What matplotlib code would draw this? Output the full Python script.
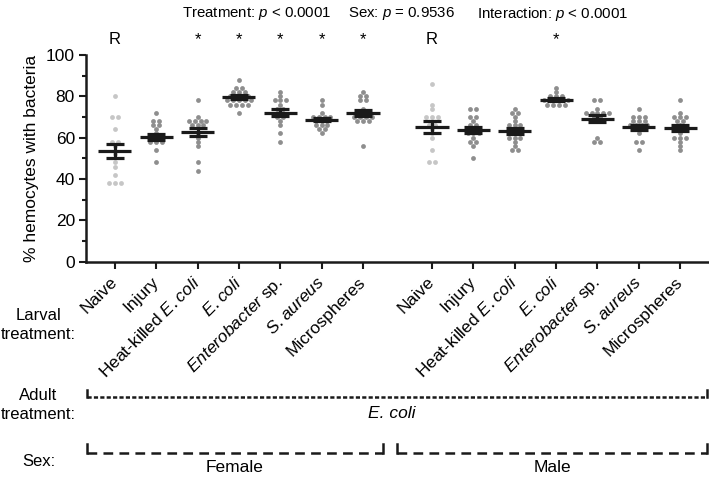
import matplotlib
matplotlib.use('Agg')
import matplotlib.pyplot as plt
from matplotlib.lines import Line2D
import numpy as np

plt.rcParams['font.family'] = ['Liberation Sans', 'DejaVu Sans']
plt.rcParams['mathtext.fontset'] = 'custom'
plt.rcParams['mathtext.it'] = 'Liberation Sans:italic'
plt.rcParams['lines.scale_dashes'] = False

# larval treatments (x tick labels), shared by both sexes
treatments = ['Naive', 'Injury', r'Heat-killed $\it{E. coli}$', r'$\it{E. coli}$',
              r'$\it{Enterobacter}$ sp.', r'$\it{S. aureus}$', 'Microspheres']

# individual points, % hemocytes with bacteria
female = [
    [80, 70, 70, 64, 58, 58, 56, 52, 48, 46, 42, 38, 38, 38],
    [72, 68, 68, 66, 66, 64, 62, 60, 60, 58, 58, 58, 54, 48],
    [78, 70, 68, 68, 68, 68, 66, 66, 66, 62, 60, 58, 56, 48, 44],
    [88, 84, 84, 82, 82, 82, 80, 80, 80, 80, 78, 78, 78, 78, 78, 76, 76, 76, 76, 72],
    [82, 80, 78, 78, 78, 76, 74, 74, 72, 70, 70, 68, 66, 62, 58],
    [78, 76, 72, 70, 70, 70, 70, 68, 68, 68, 66, 66, 66, 64, 64, 62],
    [82, 80, 80, 78, 78, 74, 72, 70, 70, 70, 70, 68, 68, 68, 56],
]
male = [
    [86, 76, 74, 70, 70, 70, 66, 66, 64, 62, 60, 54, 48, 48],
    [74, 74, 70, 70, 68, 66, 66, 64, 62, 62, 62, 60, 58, 58, 56, 50],
    [74, 72, 72, 70, 68, 66, 66, 66, 64, 62, 60, 60, 60, 58, 56, 54, 54],
    [84, 82, 80, 80, 80, 78, 78, 78, 78, 78, 76, 76, 76, 76],
    [78, 78, 74, 72, 72, 72, 72, 72, 70, 70, 68, 68, 60, 58, 58],
    [74, 70, 70, 70, 68, 68, 68, 66, 66, 66, 66, 64, 62, 58, 58, 54],
    [78, 72, 70, 70, 70, 68, 68, 66, 64, 62, 60, 60, 60, 58, 56, 54],
]

# mean and SEM as drawn
female_mean = [53.7, 60.4, 62.6, 79.7, 72.1, 68.7, 72.1]
female_sem = [3.4, 1.5, 2.0, 0.8, 1.8, 0.9, 1.4]
male_mean = [65.1, 63.5, 63.2, 78.4, 69.2, 65.1, 64.6]
male_sem = [2.7, 1.5, 1.5, 0.6, 1.6, 1.2, 1.6]

# significance marks above each group
female_marks = ['R', '', '*', '*', '*', '*', '*']
male_marks = ['R', '', '', '*', '', '', '']

W, H = 709, 480
FS = 12.5


def px(x, y):
    return x / W, 1 - y / H


def swarm(ax, xc, vals, color):
    vals = np.array(vals)
    for v in np.unique(vals):
        k = np.sum(vals == v)
        offs = (np.arange(k) - (k - 1) / 2) * 0.14
        ax.scatter(xc + offs, [v] * k, s=12, color=color, linewidths=0, zorder=2)


def main():
    fig = plt.figure(figsize=(W / 100, H / 100), dpi=100)
    ax = fig.add_axes([86 / W, (H - 261.5) / H, 623 / W, 206.5 / H])

    xf = np.arange(7)
    xm = np.arange(7) + 7.67
    groups = [(xf, female, female_mean, female_sem, female_marks),
              (xm, male, male_mean, male_sem, male_marks)]
    for xs, pts, means, sems, marks in groups:
        for i in range(7):
            col = '#c6c6c6' if i == 0 else '#8e8e8e'
            swarm(ax, xs[i], pts[i], col)
            ax.hlines(means[i], xs[i] - 0.4, xs[i] + 0.4, color='#1a1a1a', lw=2.3, zorder=3)
            ax.hlines([means[i] - sems[i], means[i] + sems[i]], xs[i] - 0.22, xs[i] + 0.22,
                      color='#1a1a1a', lw=2.3, zorder=3)
            ax.vlines(xs[i], means[i] - sems[i], means[i] + sems[i], color='#1a1a1a', lw=2.3, zorder=3)
            if marks[i]:
                ax.text(xs[i], 107.5, marks[i], ha='center', va='center', fontsize=12, clip_on=False)

    ax.set_xlim(-0.70, 14.37)
    ax.set_ylim(0, 100)
    ax.set_yticks(range(0, 101, 20))
    ax.set_yticks(range(10, 100, 20), minor=True)
    ax.set_xticks(np.concatenate([xf, xm]))
    ax.set_xticklabels(treatments + treatments, rotation=45, ha='right', va='center',
                       rotation_mode='anchor', fontsize=FS)
    ax.tick_params(axis='both', which='both', direction='out', width=1.5, color='#1a1a1a')
    ax.tick_params(axis='both', which='major', length=5, labelsize=FS, pad=3)
    ax.tick_params(axis='x', which='major', pad=8)
    ax.tick_params(axis='y', which='minor', length=3)
    for s in ['top', 'right']:
        ax.spines[s].set_visible(False)
    for s in ['left', 'bottom']:
        ax.spines[s].set_linewidth(1.8)
        ax.spines[s].set_color('#1a1a1a')

    fig.text(*px(32, 158), '% hemocytes with bacteria', rotation=90, ha='center', va='center',
             fontsize=FS)

    # header statistics
    fig.text(*px(182, 14), r'Treatment: $\it{p}$ < 0.0001', ha='left', va='center', fontsize=10.8)
    fig.text(*px(348, 14), r'Sex: $\it{p}$ = 0.9536', ha='left', va='center', fontsize=10.8)
    fig.text(*px(477, 14), r'Interaction: $\it{p}$ < 0.0001', ha='left', va='center', fontsize=10.8)

    # row labels below the axis
    fig.text(*px(38.5, 325), 'Larval\ntreatment:', ha='center', va='center', fontsize=12,
             multialignment='center', linespacing=1.3)
    fig.text(*px(38.5, 405), 'Adult\ntreatment:', ha='center', va='center', fontsize=12,
             multialignment='center', linespacing=1.3)
    fig.text(*px(38.5, 462), 'Sex:', ha='center', va='center', fontsize=12)

    def bracket(x0, x1, y, up, dashes):
        xa, ya = px(x0, y)
        xb, _ = px(x1, y)
        _, yt = px(x0, y - up)
        kw = dict(color='#1a1a1a', lw=1.8, transform=fig.transFigure)
        fig.add_artist(Line2D([xa, xb], [ya, ya], dashes=dashes, **kw))
        fig.add_artist(Line2D([xa, xa], [ya, yt], **kw))
        fig.add_artist(Line2D([xb, xb], [ya, yt], **kw))

    # adult treatment bracket
    bracket(87, 707, 397, 7, (3, 1.6))
    fig.text(*px(392, 414), 'E. coli', style='italic', ha='center', va='center', fontsize=FS)

    # sex brackets
    bracket(87, 383, 453, 9, (7, 4.5))
    bracket(397, 707, 453, 9, (7, 4.5))
    fig.text(*px(235, 468), 'Female', ha='center', va='center', fontsize=FS)
    fig.text(*px(552, 468), 'Male', ha='center', va='center', fontsize=FS)

    fig.savefig('out.png', dpi=100)


if __name__ == '__main__':
    main()
